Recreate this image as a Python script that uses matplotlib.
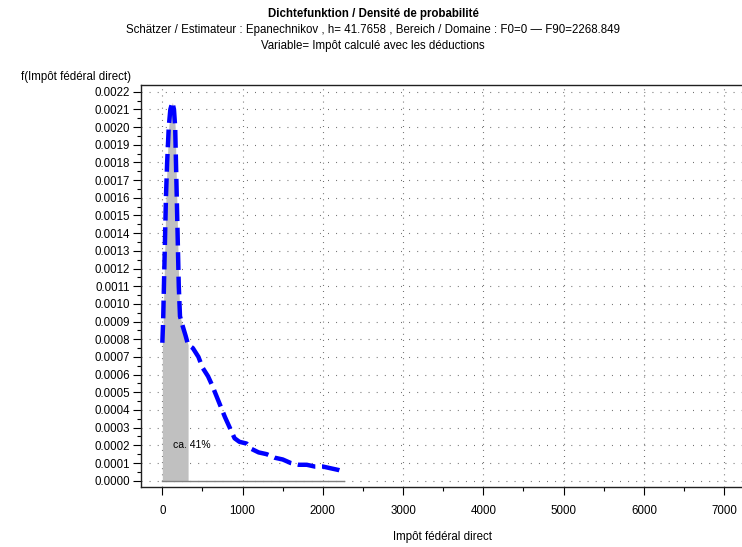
import numpy as np
import matplotlib.pyplot as plt
from matplotlib.ticker import MultipleLocator, FormatStrFormatter

plt.rcParams['font.family'] = ['Liberation Sans', 'DejaVu Sans']

# kernel density estimate (Epanechnikov)
x_vals = [0, 10, 20, 30, 45, 60, 80, 100, 125, 145, 160, 175, 185, 195, 205, 220,
          250, 290, 320, 380, 450, 500, 570, 620, 700, 780, 850, 900, 960, 1050,
          1110, 1200, 1300, 1400, 1500, 1600, 1700, 1800, 1900, 2000, 2100, 2200, 2269]
dens = [0.00078, 0.00090, 0.00110, 0.00130, 0.00160, 0.00180, 0.00200, 0.00210,
        0.00214, 0.00210, 0.00200, 0.00170, 0.00150, 0.00130, 0.00110, 0.00093,
        0.00088, 0.00082, 0.00077, 0.00075, 0.00070, 0.00064, 0.00059, 0.00054,
        0.00045, 0.00036, 0.00029, 0.00024, 0.00022, 0.00021, 0.00018, 0.00016,
        0.00015, 0.00013, 0.00012, 0.00010, 0.00009, 0.00009, 0.00008, 0.00008,
        0.00007, 0.00006, 0.00005]
f0 = 0
f90 = 2268.849
shade_end = 321
share_label = 'ca. 41%'

x_vals = np.array(x_vals)
dens = np.array(dens)

fs = 8.3

fig = plt.figure(figsize=(7.42, 5.47), dpi=100)
ax = fig.add_axes([0.190, 0.1097, 0.812, 0.735])

# shaded share under the curve
m = x_vals <= shade_end
xs = np.append(x_vals[m], shade_end)
ys = np.append(dens[m], np.interp(shade_end, x_vals, dens))
ax.fill_between(xs, 0, ys, color='#c0c0c0', lw=0, zorder=2)

# baseline over the domain
ax.plot([f0, f90], [0, 0], color='#808080', lw=1, zorder=3)

line, = ax.plot(x_vals, dens, color='#0000ff', lw=3.2, solid_capstyle='butt',
                dash_capstyle='butt', zorder=4)
line.set_dashes((4, 1.5))

ax.text(134, 0.000202, share_label, fontsize=7.5, va='center', ha='left', zorder=5)

ax.set_xlim(-266, 7241)
ax.set_ylim(-0.0000356, 0.002238)
ax.xaxis.set_major_locator(MultipleLocator(1000))
ax.xaxis.set_minor_locator(MultipleLocator(500))
ax.yaxis.set_major_locator(MultipleLocator(0.0001))
ax.yaxis.set_minor_locator(MultipleLocator(0.00005))
ax.yaxis.set_major_formatter(FormatStrFormatter('%.4f'))
ax.tick_params(which='major', length=6, width=0.8, labelsize=fs, pad=2)
ax.tick_params(which='minor', length=3, width=0.8)
ax.tick_params(axis='x', pad=7)

for s in ['right']:
    ax.spines[s].set_visible(False)
for s in ['left', 'top', 'bottom']:
    ax.spines[s].set_linewidth(1)
    ax.spines[s].set_color('#202020')

ax.yaxis.grid(True, color='#606060', lw=0.8, linestyle=(0, (0.8, 6.5)))
ax.xaxis.grid(True, color='#606060', lw=0.8, linestyle=(0, (0.8, 4.7)))
ax.set_axisbelow(True)

ax.set_xlabel('Impôt fédéral direct', fontsize=fs, labelpad=10)
fig.text(0.177, 0.860, 'f(Impôt fédéral direct)', fontsize=fs, ha='right', va='center')

fig.text(0.503, 0.975, 'Dichtefunktion / Densité de probabilité', fontsize=fs,
         fontweight='bold', ha='center', va='center')
fig.text(0.503, 0.946, 'Schätzer / Estimateur : Epanechnikov , h= 41.7658 , '
         'Bereich / Domaine : F0=0 \u2014 F90=2268.849', fontsize=fs,
         ha='center', va='center')
fig.text(0.503, 0.915, 'Variable= Impôt calculé avec les déductions', fontsize=fs,
         ha='center', va='center')

fig.savefig('out.png', dpi=100)
